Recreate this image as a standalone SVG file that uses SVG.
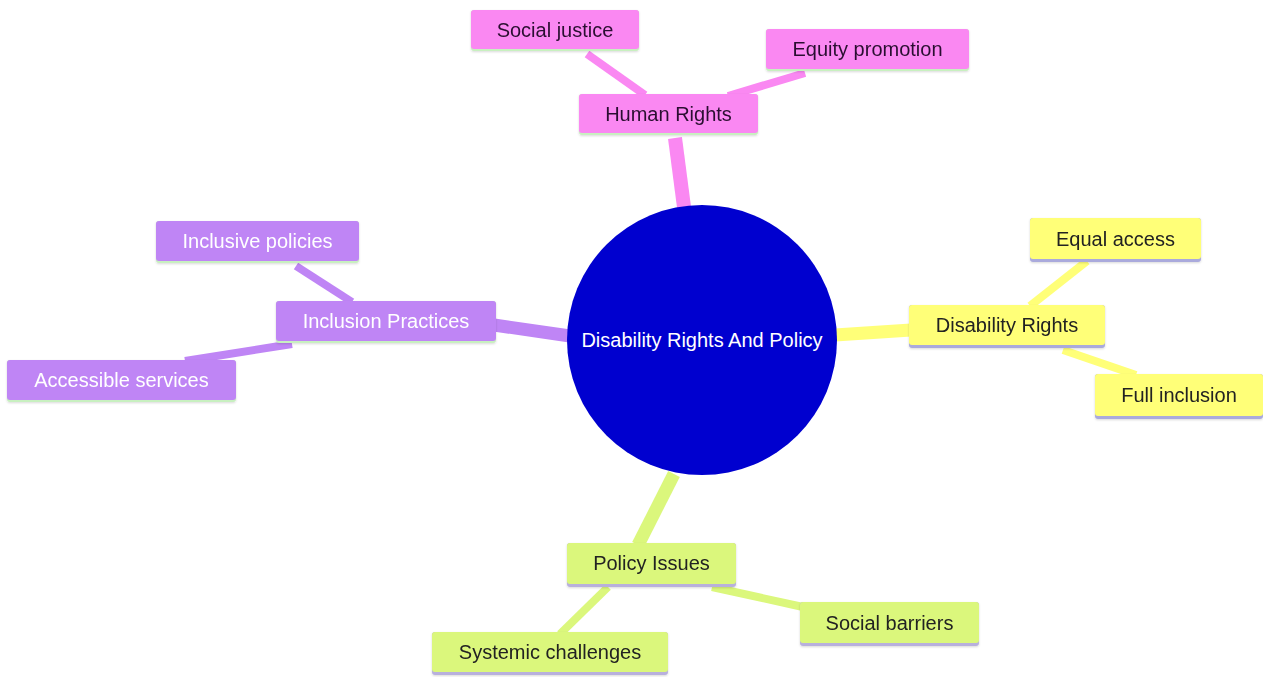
<svg xmlns="http://www.w3.org/2000/svg" width="1263" height="677" viewBox="0 0 1263 677">
<style>
.t{font-family:"Liberation Sans",Arial,sans-serif;font-size:20px;text-anchor:middle;dominant-baseline:central}
.pk{fill:#fa88f2}.pu{fill:#bf85f5}.ye{fill:#ffff78}.gr{fill:#dbf77c}
.dk{fill:#2a1030}.wh{fill:#ffffff}.bk{fill:#222222}
.c{fill:none;stroke-linecap:butt}
</style>
<defs>
<filter id="sh" x="-10%" y="-20%" width="120%" height="150%"><feDropShadow dx="0" dy="1" stdDeviation="1.2" flood-color="#000" flood-opacity="0.15"/></filter>
</defs>
<rect width="1263" height="677" fill="#ffffff"/>
<g id="connectors">
<line class="c" x1="675" y1="138" x2="684" y2="207" stroke="#fa88f2" stroke-width="14"/>
<line class="c" x1="587" y1="54" x2="645" y2="95" stroke="#fa88f2" stroke-width="8"/>
<line class="c" x1="805" y1="73" x2="728" y2="96" stroke="#fa88f2" stroke-width="8"/>
<line class="c" x1="494" y1="325" x2="570" y2="336" stroke="#bf85f5" stroke-width="13"/>
<line class="c" x1="296" y1="266" x2="352" y2="302" stroke="#bf85f5" stroke-width="8"/>
<line class="c" x1="185" y1="361" x2="292" y2="344" stroke="#bf85f5" stroke-width="8"/>
<line class="c" x1="835" y1="335" x2="911" y2="330" stroke="#ffff78" stroke-width="13"/>
<line class="c" x1="1087" y1="261" x2="1030" y2="306" stroke="#ffff78" stroke-width="8"/>
<line class="c" x1="1063" y1="350" x2="1136" y2="375" stroke="#ffff78" stroke-width="8"/>
<line class="c" x1="674" y1="474" x2="638" y2="545" stroke="#dbf77c" stroke-width="13"/>
<line class="c" x1="608" y1="587" x2="560" y2="634" stroke="#dbf77c" stroke-width="8"/>
<line class="c" x1="712" y1="587" x2="803" y2="607" stroke="#dbf77c" stroke-width="8"/>
</g>
<g id="center">
<circle cx="702" cy="340" r="135" fill="#0000cf"/>
<text class="t wh" x="702" y="340">Disability Rights And Policy</text>
</g>
<g id="human-rights" filter="url(#sh)">
<rect x="579" y="94" width="179" height="41" rx="3" fill="#c8f0c0"/>
<rect class="pk" x="579" y="94" width="179" height="39" rx="3"/>
<text class="t dk" x="668.5" y="114">Human Rights</text>
</g>
<g id="social-justice" filter="url(#sh)">
<rect x="471" y="10" width="168" height="41" rx="3" fill="#c8f0c0"/>
<rect class="pk" x="471" y="10" width="168" height="39" rx="3"/>
<text class="t dk" x="555" y="30">Social justice</text>
</g>
<g id="equity-promotion" filter="url(#sh)">
<rect x="766" y="29" width="203" height="42" rx="3" fill="#c8f0c0"/>
<rect class="pk" x="766" y="29" width="203" height="40" rx="3"/>
<text class="t dk" x="867.5" y="49">Equity promotion</text>
</g>
<g id="inclusion-practices" filter="url(#sh)">
<rect x="276" y="301" width="220" height="42" rx="3" fill="#c8f0c0"/>
<rect class="pu" x="276" y="301" width="220" height="40" rx="3"/>
<text class="t wh" x="386" y="321">Inclusion Practices</text>
</g>
<g id="inclusive-policies" filter="url(#sh)">
<rect x="156" y="221" width="203" height="42" rx="3" fill="#c8f0c0"/>
<rect class="pu" x="156" y="221" width="203" height="40" rx="3"/>
<text class="t wh" x="257.5" y="241">Inclusive policies</text>
</g>
<g id="accessible-services" filter="url(#sh)">
<rect x="7" y="360" width="229" height="42" rx="3" fill="#c8f0c0"/>
<rect class="pu" x="7" y="360" width="229" height="40" rx="3"/>
<text class="t wh" x="121.5" y="380">Accessible services</text>
</g>
<g id="disability-rights" filter="url(#sh)">
<rect x="909" y="305" width="196" height="43" rx="3" fill="#aaaadc"/>
<rect class="ye" x="909" y="305" width="196" height="40" rx="3"/>
<text class="t bk" x="1007" y="325">Disability Rights</text>
</g>
<g id="equal-access" filter="url(#sh)">
<rect x="1030" y="218" width="171" height="44" rx="3" fill="#aaaadc"/>
<rect class="ye" x="1030" y="218" width="171" height="41" rx="3"/>
<text class="t bk" x="1115.5" y="239">Equal access</text>
</g>
<g id="full-inclusion" filter="url(#sh)">
<rect x="1095" y="374" width="168" height="45" rx="3" fill="#aaaadc"/>
<rect class="ye" x="1095" y="374" width="168" height="42" rx="3"/>
<text class="t bk" x="1179" y="395">Full inclusion</text>
</g>
<g id="policy-issues" filter="url(#sh)">
<rect x="567" y="543" width="169" height="44" rx="3" fill="#b8b0dc"/>
<rect class="gr" x="567" y="543" width="169" height="41" rx="3"/>
<text class="t bk" x="651.5" y="563">Policy Issues</text>
</g>
<g id="systemic-challenges" filter="url(#sh)">
<rect x="432" y="632" width="236" height="43" rx="3" fill="#b8b0dc"/>
<rect class="gr" x="432" y="632" width="236" height="40" rx="3"/>
<text class="t bk" x="550" y="652">Systemic challenges</text>
</g>
<g id="social-barriers" filter="url(#sh)">
<rect x="800" y="602" width="179" height="44" rx="3" fill="#b8b0dc"/>
<rect class="gr" x="800" y="602" width="179" height="41" rx="3"/>
<text class="t bk" x="889.5" y="623">Social barriers</text>
</g>
</svg>
